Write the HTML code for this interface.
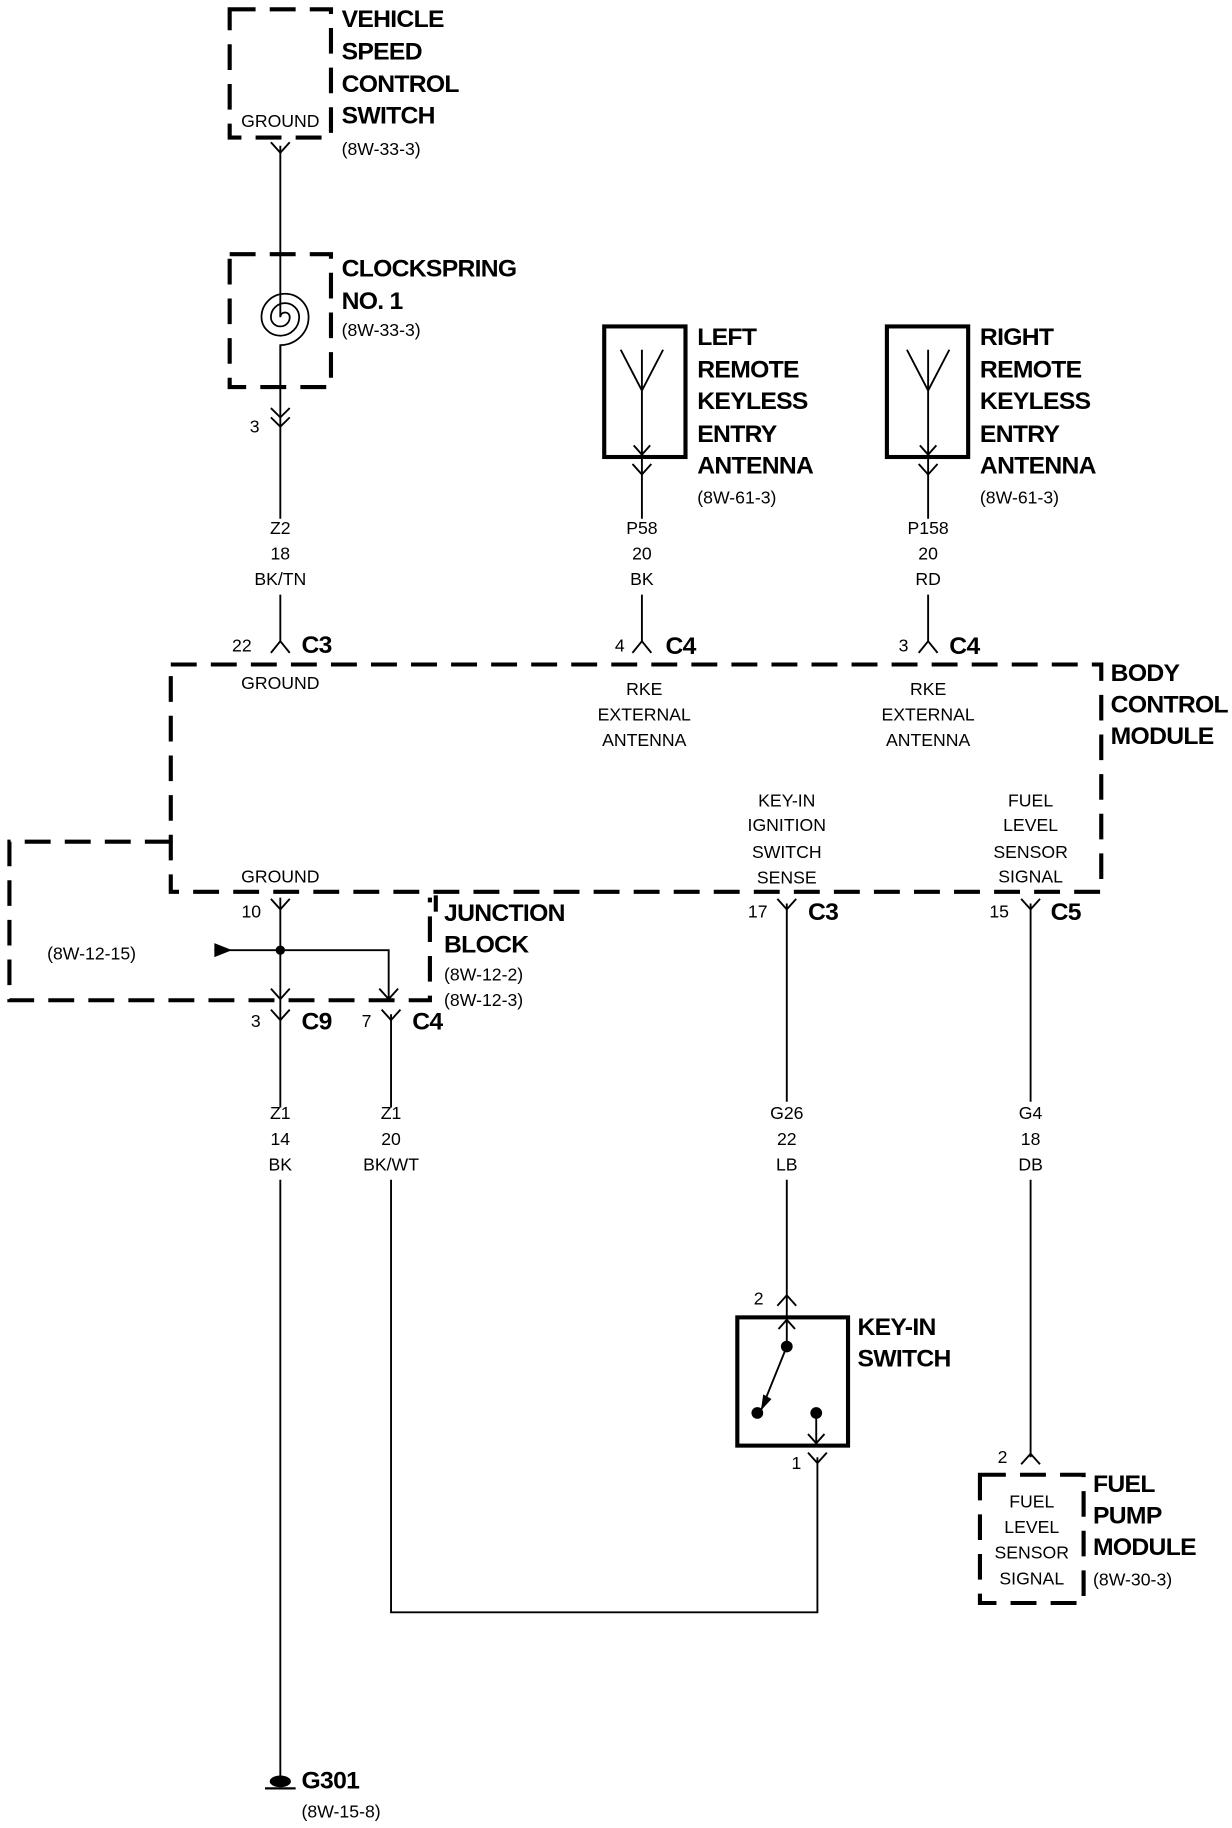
<!DOCTYPE html>
<html><head><meta charset="utf-8"><style>
html,body{margin:0;padding:0;background:#fff}
svg{display:block}
text{font-family:"Liberation Sans",Arial,sans-serif;fill:#000}
.s{font-size:15px}
.b{font-size:21px;font-weight:bold;letter-spacing:-0.6px}
.m{text-anchor:middle}
</style></head><body>
<svg width="1232" height="1828" viewBox="0 0 1046 1568" preserveAspectRatio="none" xmlns="http://www.w3.org/2000/svg">
<g fill="none" stroke="#000" stroke-width="1.6">
<g stroke-width="3.5" stroke-dasharray="22,12">
<rect x="195" y="8" width="86" height="110"/>
<rect x="195" y="218" width="86" height="114"/>
<path d="M145 570 H935 V765 H145 Z"/>
<path d="M145 722 H8 V858 H365 V770"/>
<rect x="832" y="1265" width="88" height="110"/>
</g>
<g stroke-width="3.5">
<rect x="513" y="280" width="69" height="112"/>
<rect x="753" y="280" width="69" height="112"/>
<rect x="626" y="1130" width="94" height="110"/>
<path d="M370 768 V782"/>
</g>
<!-- wires (broken around labels) -->
<path d="M238 125 V272 M238 296 V445 M238 510 V550"/>
<path d="M545 392 V445 M545 510 V550"/>
<path d="M788 392 V445 M788 510 V550"/>
<path d="M238 770 V950 M238 1012 V1525"/>
<path d="M182 815 H330 V858"/>
<path d="M332 870 V950 M332 1012 V1383 H694 V1250"/>
<path d="M668 775 V945 M668 1012 V1130"/>
<path d="M875 775 V945 M875 1012 V1250"/>
<path d="M230 122 L238 131 L246 122"/>
<path d="M537 398 L545 407 L553 398"/>
<path d="M780 398 L788 407 L796 398"/>
<path d="M230 771 L238 780 L246 771"/>
<path d="M660 771 L668 780 L676 771"/>
<path d="M867 771 L875 780 L883 771"/>
<path d="M230 866 L238 875 L246 866"/>
<path d="M324 866 L332 875 L340 866"/>
<path d="M686 1246 L694 1255 L702 1246"/>
<path d="M230 560 L238 550 L246 560"/>
<path d="M537 560 L545 550 L553 560"/>
<path d="M780 560 L788 550 L796 560"/>
<path d="M660 1120 L668 1111 L676 1120"/>
<path d="M867 1256 L875 1247 L883 1256"/>
<path d="M230 350 L238 358 L246 350 M230 358 L238 366 L246 358"/>
<path d="M230 848 L238 857 L246 848"/>
<path d="M322 848 L330 857 L338 848"/>
<path d="M545 300 V390 M527 300 L545 335 L563 300 M538 382 L545 390 L552 382"/>
<path d="M788 300 V390 M770 300 L788 335 L806 300 M781 382 L788 390 L795 382"/>
<path d="M238 272 A4 4 0 0 1 246 272 A8 8 0 0 1 230 272 A12 12 0 0 1 254 272 A16 16 0 0 1 222 272 A20 20 0 0 1 262 272 A24 24 0 0 1 238 296 V332" stroke-width="1.5"/>
<path d="M668 1132 V1155 M661 1140 L668 1132 L675 1140"/>
<path d="M668 1155 L646 1210"/>
<path d="M693 1212 V1238 M686 1230 L693 1238 L700 1230"/>
<path d="M225 1534 H251" stroke-width="2"/>
</g>
<g fill="#000">
<circle cx="238" cy="815" r="4"/>
<path d="M182 809 L197 815 L182 821 Z"/>
<circle cx="668" cy="1155" r="5"/>
<circle cx="643" cy="1212" r="5"/>
<circle cx="693" cy="1212" r="5"/>
<path d="M646 1210 L648 1196 L655 1200 Z"/>
<ellipse cx="238" cy="1528" rx="9" ry="5"/>
</g>
<text class="s m" x="238" y="109">GROUND</text>
<text class="b" x="290" y="23">VEHICLE</text>
<text class="b" x="290" y="51">SPEED</text>
<text class="b" x="290" y="79">CONTROL</text>
<text class="b" x="290" y="106">SWITCH</text>
<text class="s" x="290" y="133">(8W-33-3)</text>
<text class="b" x="290" y="237">CLOCKSPRING</text>
<text class="b" x="290" y="265">NO. 1</text>
<text class="s" x="290" y="288">(8W-33-3)</text>
<text class="s" x="212" y="371">3</text>
<text class="s m" x="238" y="458">Z2</text><text class="s m" x="238" y="480">18</text><text class="s m" x="238" y="502">BK/TN</text>
<text class="b" x="592" y="296">LEFT</text><text class="b" x="592" y="324">REMOTE</text><text class="b" x="592" y="351">KEYLESS</text><text class="b" x="592" y="379">ENTRY</text><text class="b" x="592" y="406">ANTENNA</text><text class="s" x="592" y="432">(8W-61-3)</text>
<text class="b" x="832" y="296">RIGHT</text><text class="b" x="832" y="324">REMOTE</text><text class="b" x="832" y="351">KEYLESS</text><text class="b" x="832" y="379">ENTRY</text><text class="b" x="832" y="406">ANTENNA</text><text class="s" x="832" y="432">(8W-61-3)</text>
<text class="s m" x="545" y="458">P58</text><text class="s m" x="545" y="480">20</text><text class="s m" x="545" y="502">BK</text>
<text class="s m" x="788" y="458">P158</text><text class="s m" x="788" y="480">20</text><text class="s m" x="788" y="502">RD</text>
<text class="s" x="197" y="559">22</text><text class="b" x="256" y="560">C3</text>
<text class="s" x="522" y="559">4</text><text class="b" x="565" y="561">C4</text>
<text class="s" x="763" y="559">3</text><text class="b" x="806" y="561">C4</text>
<text class="s m" x="238" y="591">GROUND</text>
<text class="s m" x="547" y="596">RKE</text><text class="s m" x="547" y="618">EXTERNAL</text><text class="s m" x="547" y="640">ANTENNA</text>
<text class="s m" x="788" y="596">RKE</text><text class="s m" x="788" y="618">EXTERNAL</text><text class="s m" x="788" y="640">ANTENNA</text>
<text class="b" x="943" y="584">BODY</text><text class="b" x="943" y="611">CONTROL</text><text class="b" x="943" y="638">MODULE</text>
<text class="s m" x="668" y="692">KEY-IN</text><text class="s m" x="668" y="713">IGNITION</text><text class="s m" x="668" y="736">SWITCH</text><text class="s m" x="668" y="758">SENSE</text>
<text class="s m" x="875" y="692">FUEL</text><text class="s m" x="875" y="713">LEVEL</text><text class="s m" x="875" y="736">SENSOR</text><text class="s m" x="875" y="757">SIGNAL</text>
<text class="s m" x="238" y="757">GROUND</text>
<text class="s" x="205" y="787">10</text>
<text class="s" x="635" y="787">17</text><text class="b" x="686" y="789">C3</text>
<text class="s" x="840" y="787">15</text><text class="b" x="892" y="789">C5</text>
<text class="b" x="377" y="790">JUNCTION</text><text class="b" x="377" y="817">BLOCK</text>
<text class="s" x="377" y="841">(8W-12-2)</text><text class="s" x="377" y="863">(8W-12-3)</text>
<text class="s" x="40" y="823">(8W-12-15)</text>
<text class="s" x="213" y="881">3</text><text class="b" x="256" y="883">C9</text>
<text class="s" x="307" y="881">7</text><text class="b" x="350" y="883">C4</text>
<text class="s m" x="238" y="960">Z1</text><text class="s m" x="238" y="982">14</text><text class="s m" x="238" y="1004">BK</text>
<text class="s m" x="332" y="960">Z1</text><text class="s m" x="332" y="982">20</text><text class="s m" x="332" y="1004">BK/WT</text>
<text class="s m" x="668" y="960">G26</text><text class="s m" x="668" y="982">22</text><text class="s m" x="668" y="1004">LB</text>
<text class="s m" x="875" y="960">G4</text><text class="s m" x="875" y="982">18</text><text class="s m" x="875" y="1004">DB</text>
<text class="s" x="640" y="1119">2</text>
<text class="b" x="728" y="1145">KEY-IN</text><text class="b" x="728" y="1172">SWITCH</text>
<text class="s" x="672" y="1260">1</text>
<text class="s" x="847" y="1255">2</text>
<text class="s m" x="876" y="1293">FUEL</text><text class="s m" x="876" y="1315">LEVEL</text><text class="s m" x="876" y="1337">SENSOR</text><text class="s m" x="876" y="1359">SIGNAL</text>
<text class="b" x="928" y="1280">FUEL</text><text class="b" x="928" y="1307">PUMP</text><text class="b" x="928" y="1334">MODULE</text><text class="s" x="928" y="1360">(8W-30-3)</text>
<text class="b" x="256" y="1534">G301</text><text class="s" x="256" y="1559">(8W-15-8)</text>
</svg>
</body></html>
